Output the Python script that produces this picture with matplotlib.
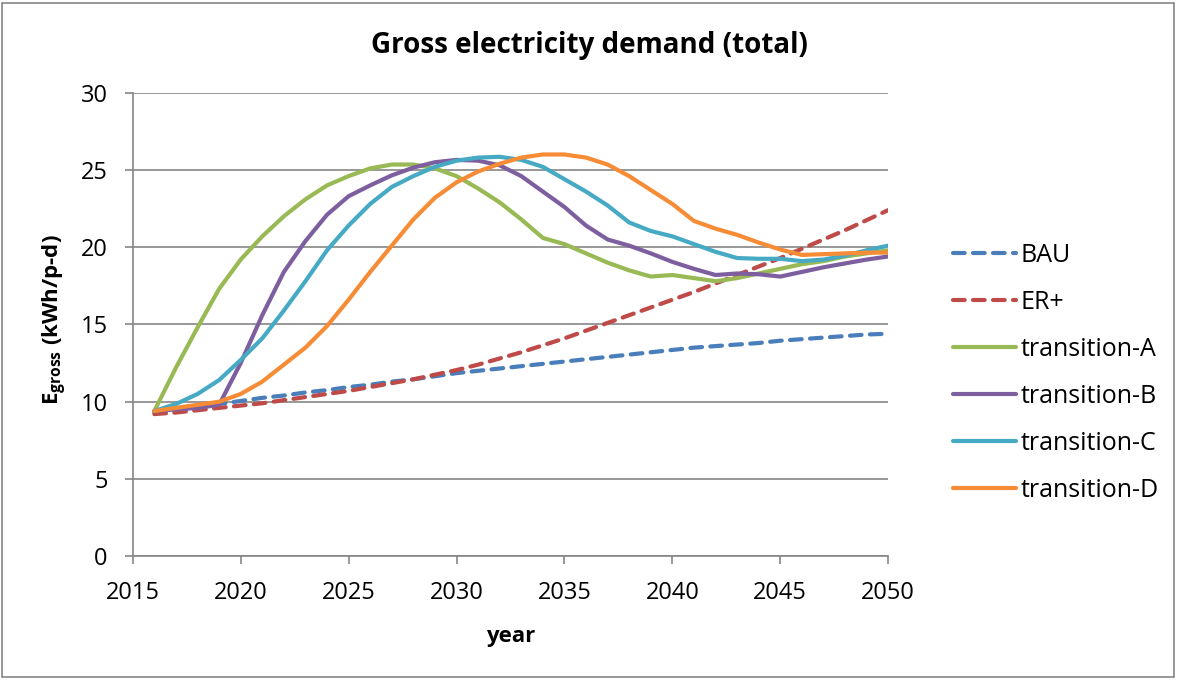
import matplotlib
matplotlib.use("Agg")
import matplotlib.pyplot as plt
from matplotlib.patches import Rectangle

###   DONNEES   ###

annees = list(range(2016, 2051))

bau = [9.3, 9.5, 9.7, 9.85, 10.05, 10.25, 10.4, 10.6, 10.75, 10.95,
       11.1, 11.3, 11.45, 11.65, 11.85, 12.0, 12.15, 12.3, 12.45, 12.6,
       12.75, 12.9, 13.05, 13.2, 13.35, 13.5, 13.6, 13.7, 13.8, 13.95,
       14.05, 14.15, 14.25, 14.35, 14.4]

er_plus = [9.2, 9.3, 9.45, 9.6, 9.75, 9.9, 10.1, 10.3, 10.5, 10.7,
           10.95, 11.2, 11.45, 11.75, 12.05, 12.4, 12.8, 13.2, 13.65, 14.1,
           14.6, 15.1, 15.6, 16.1, 16.6, 17.1, 17.65, 18.2, 18.75, 19.3,
           19.9, 20.5, 21.1, 21.75, 22.4]

transition_a = [9.4, 12.2, 14.8, 17.3, 19.2, 20.7, 22.0, 23.1, 24.0, 24.6,
                25.1, 25.35, 25.35, 25.1, 24.6, 23.8, 22.9, 21.8, 20.6, 20.2,
                19.6, 19.0, 18.5, 18.1, 18.2, 18.0, 17.8, 18.0, 18.3, 18.6,
                18.9, 19.1, 19.4, 19.6, 19.8]

transition_b = [9.4, 9.5, 9.6, 9.8, 12.5, 15.6, 18.4, 20.4, 22.1, 23.3,
                24.0, 24.65, 25.15, 25.5, 25.65, 25.6, 25.3, 24.6, 23.6, 22.6,
                21.4, 20.5, 20.1, 19.6, 19.05, 18.6, 18.2, 18.3, 18.25, 18.1,
                18.4, 18.7, 18.95, 19.2, 19.4]

transition_c = [9.4, 9.85, 10.5, 11.4, 12.7, 14.1, 15.9, 17.8, 19.8, 21.4,
                22.8, 23.9, 24.6, 25.2, 25.6, 25.8, 25.85, 25.65, 25.2, 24.4,
                23.6, 22.7, 21.6, 21.05, 20.7, 20.2, 19.7, 19.3, 19.25, 19.25,
                19.1, 19.2, 19.45, 19.8, 20.1]

transition_d = [9.4, 9.6, 9.8, 10.0, 10.5, 11.3, 12.4, 13.5, 14.9, 16.6,
                18.4, 20.1, 21.8, 23.2, 24.2, 24.9, 25.4, 25.8, 26.0, 26.0,
                25.8, 25.35, 24.6, 23.7, 22.8, 21.7, 21.2, 20.8, 20.3, 19.85,
                19.5, 19.55, 19.6, 19.65, 19.65]

noms = ["BAU", "ER+", "transition-A", "transition-B", "transition-C", "transition-D"]
series = [bau, er_plus, transition_a, transition_b, transition_c, transition_d]
couleurs = ["#4a7ebb", "#be4b48", "#98b954", "#7d5fa0", "#46aac5", "#f68c36"]
pointilles = [True, True, False, False, False, False]

x_ticks = list(range(2015, 2051, 5))
y_ticks = list(range(0, 31, 5))

###   STYLE   ###

plt.rcParams['font.family'] = ['Open Sans', 'DejaVu Sans']
plt.rcParams['mathtext.fontset'] = 'custom'
plt.rcParams['mathtext.rm'] = 'Open Sans'
plt.rcParams['mathtext.bf'] = 'Open Sans:bold'
gris = "#868686"

fig = plt.figure(figsize=(11.78, 6.8), dpi=100)
ax = fig.add_axes([0.1127, 0.182, 0.6413, 0.6817])

for nom, vals, c, dash in zip(noms, series, couleurs, pointilles):
    if dash:
        ax.plot(annees, vals, color=c, lw=3, linestyle=(0, (2.8, 2.0)),
                dash_capstyle='round', label=nom)
    else:
        ax.plot(annees, vals, color=c, lw=3, solid_capstyle='round',
                solid_joinstyle='round', label=nom)

ax.set_xlim(2015, 2050)
ax.set_ylim(0, 30)
ax.set_xticks(x_ticks)
ax.set_yticks(y_ticks)
ax.yaxis.grid(True, color=gris, lw=1.2)
ax.set_axisbelow(True)
for s in ['top', 'right']:
    ax.spines[s].set_visible(False)
for s in ['left', 'bottom']:
    ax.spines[s].set_color(gris)
    ax.spines[s].set_linewidth(1.2)
ax.tick_params(axis='both', colors=gris, labelcolor='black', labelsize=17,
               length=6, width=1.2, direction='out', pad=12)

ax.set_xlabel("year", fontsize=16, fontweight='bold', labelpad=15)

fig.text(0.047, 1 - 320 / 680, r"$\mathbf{E}_{\mathbf{gross}}$ (kWh/p-d)",
         rotation=90, ha='center', va='center', fontsize=16, fontweight='bold')

fig.text(0.5, 1 - 45 / 680, "Gross electricity demand (total)",
         ha='center', va='center', fontsize=20, fontweight='bold')

ax.legend(loc='upper left', bbox_to_anchor=(0.809, 1 - 243 / 680),
          bbox_transform=fig.transFigure, frameon=False, fontsize=18,
          handlelength=2.5, handletextpad=0.2, labelspacing=0.88,
          borderaxespad=0, borderpad=0)

fig.patches.append(Rectangle((0.002, 0.004), 0.995, 0.992, transform=fig.transFigure,
                             fill=False, edgecolor=gris, lw=1.2))

fig.savefig("out.png", dpi=100)
